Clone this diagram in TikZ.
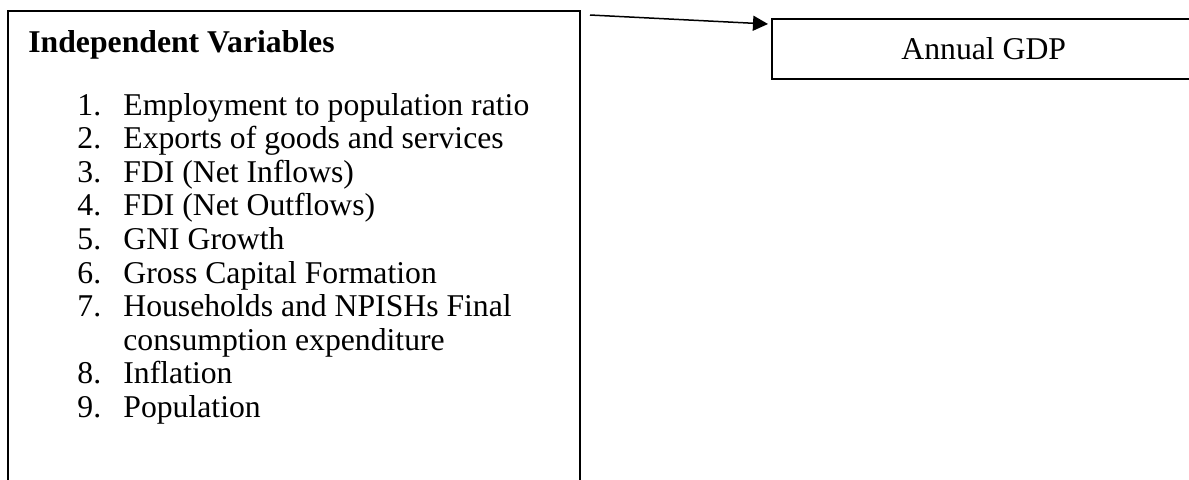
\documentclass[tikz,border=0pt]{standalone}
\usepackage{fontspec}
\setmainfont{Liberation Serif}
\usetikzlibrary{arrows.meta}
\begin{document}
\begin{tikzpicture}[x=0.5pt,y=-0.5pt,
  box/.style={draw=black, line width=0.75pt, rectangle, inner sep=0pt},
  txt/.style={inner sep=0pt, anchor=base west, font=\fontsize{15.85pt}{17.25pt}\selectfont},
  head/.style={txt, font=\fontsize{15.85pt}{17.25pt}\selectfont\bfseries},
  arrow/.style={line width=0.75pt, -{Triangle[length=7.5pt,width=7.5pt]}}]
\useasboundingbox (0,0) rectangle (1189,479);
\clip (0,0) rectangle (1189,479);
\node[box, anchor=north west, minimum width=286pt, minimum height=260pt] (ind) at (7,10) {};
\node[box, anchor=north west, minimum width=212pt, minimum height=30pt,
      font=\fontsize{15.85pt}{17.25pt}\selectfont] (gdp) at (771,18) {Annual GDP};
\node[head] (title) at (28,52) {Independent Variables};
\foreach \n/\t/\l in {1/Employment to population ratio/0,
                      2/Exports of goods and services/1,
                      3/FDI (Net Inflows)/2,
                      4/FDI (Net Outflows)/3,
                      5/GNI Growth/4,
                      6/Gross Capital Formation/5,
                      7/Households and NPISHs Final/6,
                      8/Inflation/8,
                      9/Population/9}{
  \node[txt] (num\n) at (77,115+33.6*\l) {\n.};
  \node[txt] (item\n) at (123,115+33.6*\l) {\t};
}
\node[txt] (item7b) at (123,115+33.6*7) {consumption expenditure};
\coordinate (start) at (590,15);
\draw[arrow] (start) -- ([xshift=-1.5pt,yshift=-3pt]gdp.north west);
\end{tikzpicture}
\end{document}
